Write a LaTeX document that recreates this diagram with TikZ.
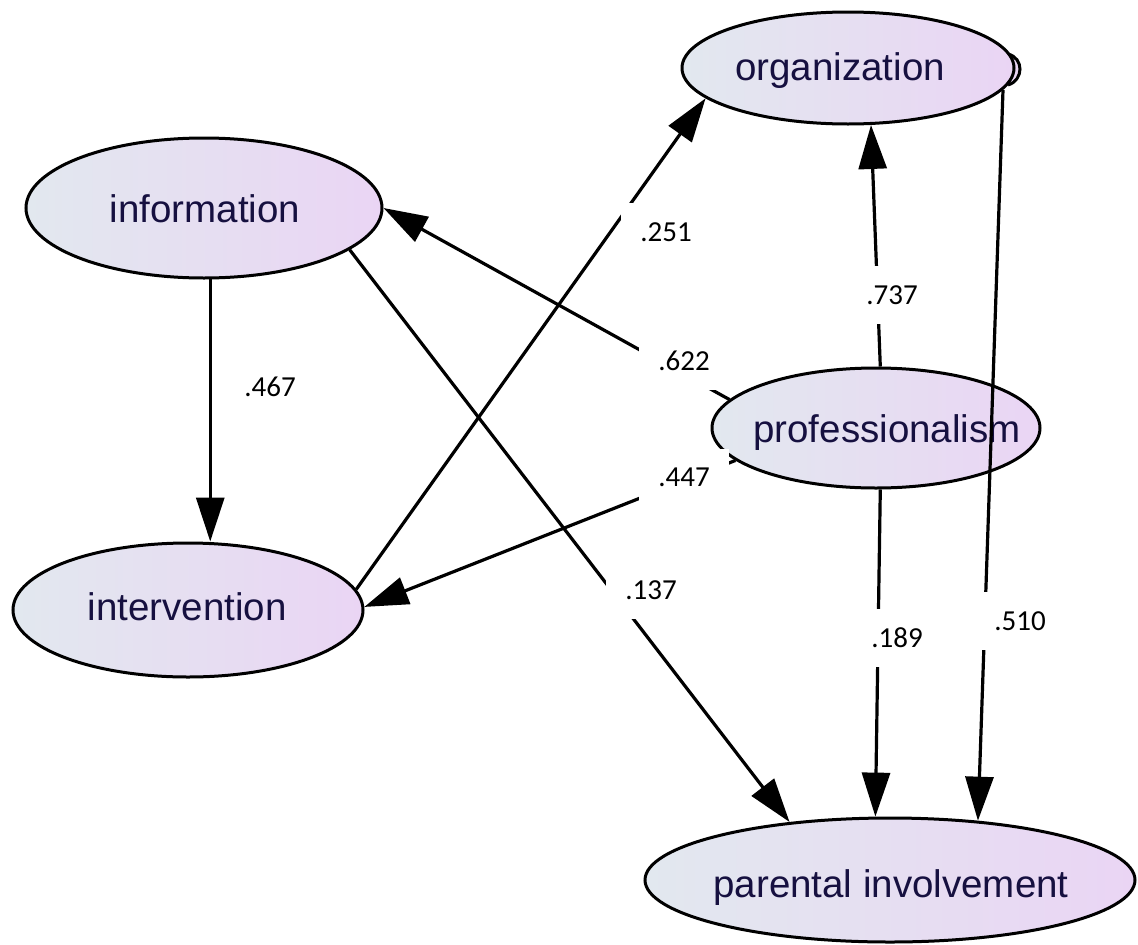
\documentclass[tikz,border=0pt]{standalone}
\usepackage{fontspec}
\setmainfont{Liberation Sans}
\newfontfamily\coeffont{Carlito}
\usetikzlibrary{shapes.geometric,arrows.meta}
\definecolor{varleft}{RGB}{226,232,239}
\definecolor{varright}{RGB}{234,213,244}
\definecolor{varink}{RGB}{22,16,64}
\begin{document}
\begin{tikzpicture}[x=1pt,y=-1pt,
  latent/.style={ellipse, draw=black, line width=3pt, left color=varleft, right color=varright, inner sep=0pt},
  vname/.style={anchor=base, text=varink, font=\fontsize{38.5}{46}\selectfont},
  regpath/.style={line width=3.2pt, -{Triangle[length=44pt,width=28pt]}},
  coef/.style={fill=white, inner sep=19pt, font=\coeffont\fontsize{29}{35}\selectfont}]
\useasboundingbox (0,0) rectangle (1138,945);

% small lens on the right rim of the organization ellipse
\draw[line width=3pt, fill=varright] (1008,54) .. controls (1024,58) and (1024,80) .. (1008,85);

% latent variables
\node[latent, minimum width=332pt, minimum height=112pt] (org)  at (848,68)  {};
\node[latent, minimum width=356pt, minimum height=140pt] (info) at (204,208) {};
\node[latent, minimum width=350pt, minimum height=134pt] (intv) at (188,610) {};
\node[latent, minimum width=328pt, minimum height=120pt] (prof) at (876,428) {};
\node[latent, minimum width=490pt, minimum height=124pt] (par)  at (890,880) {};

\node[vname] (org-t)  at (840,80)  {organization};
\node[vname] (info-t) at (205,222) {information};
\node[vname] (intv-t) at (187,620) {intervention};
\node[vname] (prof-t) at (887,442) {professionalism};
\node[vname] (par-t)  at (891,897) {parental involvement};

% regression paths
\draw[regpath] (info.-85) -- (info.-85 |- intv.north);
\draw[regpath] (info.-16.8) -- (par.150.3);
\draw[regpath] (intv.7.8) -- (org.192.9);
\draw[regpath] (prof.169.3) -- (info.0);
\draw[regpath] (prof.193.7) -- (intv.1);
\draw[regpath] (prof.86.2) -- (org.-68.6);
\draw[regpath] (prof.-86.2) -- (par.103.6);
\draw[regpath] (org.-8.6) -- (par.34.3);

% path coefficients
\node[coef] (c467) at (270,387) {.467};
\node[coef] (c251) at (666,232) {.251};
\node[coef] (c622) at (684,361) {.622};
\node[coef] (c447) at (684,477) {.447};
\node[coef] (c737) at (892,295) {.737};
\node[coef] (c137) at (651,590) {.137};
\node[coef] (c189) at (897,638) {.189};
\node[coef] (c510) at (1020,621) {.510};
\end{tikzpicture}
\end{document}
